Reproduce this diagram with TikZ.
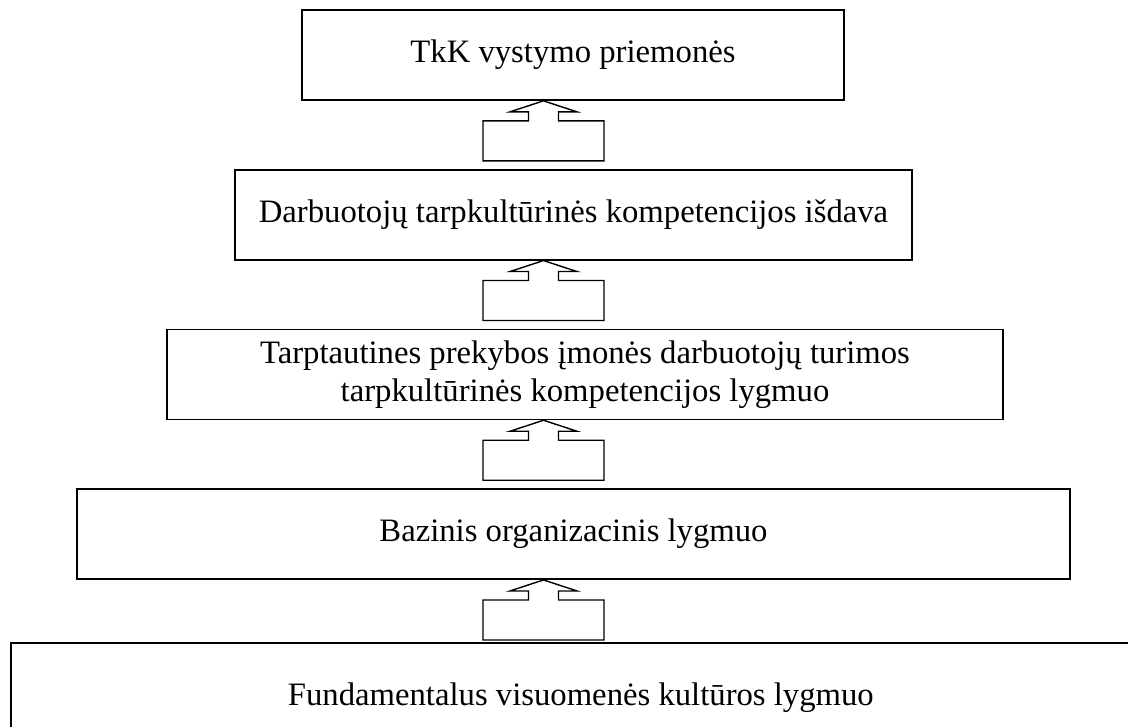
\documentclass[tikz,border=0pt]{standalone}
\usepackage{fontspec}
\setmainfont{Liberation Serif}
\usepackage{tikz}
\usetikzlibrary{positioning}
\newcommand{\levelfont}{\fontsize{32.7pt}{37.6pt}\selectfont}
\tikzset{
  level/.style={
    rectangle, draw, line width=1.7pt, inner sep=0pt,
    minimum height=90pt, align=center, font=\levelfont
  },
  uparrow/.pic={
    \draw[line width=1.4pt, line join=miter]
      (0,0) -- (33.5,11) -- (15,11) -- (15,20) -- (60.5,20) -- (60.5,60)
      -- (-60.5,60) -- (-60.5,20) -- (-15,20) -- (-15,11) -- (-33.5,11) -- cycle;
  },
}
\begin{document}
\begin{tikzpicture}[x=1pt, y=-1pt]
  \clip (0,0) rectangle (1128,727);
  \fill[white] (0,0) rectangle (1128,727);

  % Levels, top to bottom
  \node[level, minimum width=542pt] (tools) at (573,55) {TkK vystymo priemonės};
  \node[level, minimum width=677pt, below=68pt of tools, xshift=0.5pt] (output)
    {Darbuotojų tarpkultūrinės kompetencijos išdava};
  \node[level, minimum width=836pt, below=68pt of output, xshift=11.5pt] (company)
    {Tarptautines prekybos įmonės darbuotojų turimos\\tarpkultūrinės kompetencijos lygmuo};
  \node[level, minimum width=993pt, below=68pt of company, xshift=-11.5pt] (base)
    {Bazinis organizacinis lygmuo};
  \node[level, minimum width=1140pt, minimum height=110pt, anchor=north west]
    (society) at (10,642) {Fundamentalus visuomenės kultūros lygmuo};

  % Block arrows, tip on the bottom of the upper level
  \coordinate (axis) at (543.5,0);
  \pic at (axis |- tools.south) {uparrow};
  \pic at (axis |- output.south) {uparrow};
  \pic at (axis |- company.south) {uparrow};
  \pic at (axis |- base.south) {uparrow};
\end{tikzpicture}
\end{document}
